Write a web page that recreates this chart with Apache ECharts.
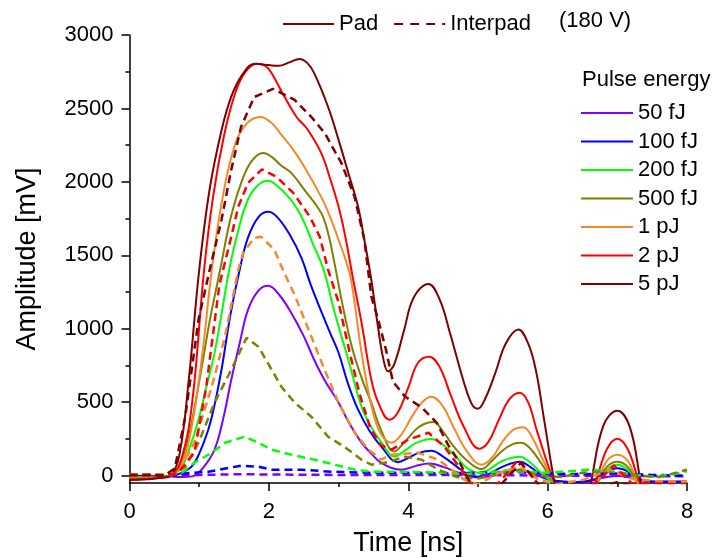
<!DOCTYPE html>
<html>
<head>
<meta charset="utf-8">
<script src="https://cdn.jsdelivr.net/npm/echarts@6/dist/echarts.min.js"></script>
<style>html,body{margin:0;padding:0;background:#fff;}#c{width:719px;height:558px;}</style>
</head>
<body>
<div id="c"></div>
<script>
// ---- data: [time ns, amplitude mV] ----
var energies = ['50 fJ','100 fJ','200 fJ','500 fJ','1 pJ','2 pJ','5 pJ'];
var colors = ['#8000ff','#0000ff','#00ff00','#808000','#f5892a','#ff0000','#800000'];
var yTickValues = [0,500,1000,1500,2000,2500,3000];
var yMinorValues = [250,750,1250,1750,2250,2750];

var pad50fJ = [[0,0],[0.3,0],[0.5,-3],[0.75,-10],[0.9,-5],[1.05,50],[1.22,177],[1.35,400],[1.46,653],[1.58,900],[1.7,1129],[1.85,1260],[1.99,1293],[2.15,1230],[2.32,1109],[2.5,950],[2.65,789],[2.8,650],[3.0,497],[3.15,360],[3.33,225],[3.47,150],[3.61,88],[3.9,41],[4.1,65],[4.3,82],[4.5,60],[4.75,15],[5.0,-12],[5.2,0],[5.4,30],[5.6,40],[5.8,10],[6.0,-25],[6.2,-40],[6.5,-45],[6.75,-20],[7.0,0],[7.25,-20],[7.5,-40],[8,-40]];
var pad100fJ = [[0,-5],[0.25,-5],[0.45,-3],[0.6,-2],[0.75,20],[0.89,61],[1.0,150],[1.13,313],[1.22,480],[1.32,721],[1.45,1100],[1.58,1400],[1.7,1620],[1.85,1760],[1.99,1796],[2.12,1760],[2.3,1640],[2.47,1480],[2.6,1300],[2.75,1120],[2.88,970],[3.0,837],[3.14,620],[3.28,449],[3.45,300],[3.61,200],[3.85,92],[4.0,120],[4.15,155],[4.33,170],[4.5,130],[4.7,60],[4.85,10],[5.0,-7],[5.15,10],[5.35,60],[5.6,95],[5.75,60],[5.95,-10],[6.1,-35],[6.4,-45],[6.7,-20],[6.85,30],[7.0,50],[7.15,30],[7.3,-20],[7.6,-42],[8,-42]];
var pad200fJ = [[0,-10],[0.25,-8],[0.45,-5],[0.6,0],[0.75,60],[0.85,170],[0.99,381],[1.1,600],[1.22,836],[1.32,1100],[1.43,1400],[1.55,1650],[1.7,1880],[1.85,1980],[1.99,2007],[2.1,1980],[2.28,1898],[2.4,1820],[2.51,1721],[2.63,1580],[2.78,1410],[2.95,1100],[3.14,789],[3.33,470],[3.47,330],[3.61,230],[3.8,130],[3.95,170],[4.1,220],[4.33,250],[4.5,210],[4.7,120],[4.85,50],[5.02,20],[5.15,40],[5.35,100],[5.6,129],[5.75,90],[5.95,0],[6.1,-50],[6.4,-120],[6.7,-50],[6.85,40],[7.0,75],[7.15,40],[7.3,-50],[7.6,-120],[8,-100]];
var pad500fJ = [[0,-15],[0.25,-12],[0.45,-8],[0.6,5],[0.75,100],[0.85,265],[1.03,721],[1.15,1050],[1.3,1400],[1.45,1750],[1.6,1990],[1.75,2140],[1.92,2197],[2.04,2170],[2.18,2110],[2.32,2061],[2.51,1946],[2.75,1789],[2.85,1650],[2.94,1450],[3.05,1180],[3.2,860],[3.35,640],[3.47,497],[3.61,310],[3.8,165],[3.95,230],[4.1,310],[4.22,350],[4.36,365],[4.5,300],[4.65,200],[4.85,100],[5.05,45],[5.2,100],[5.35,170],[5.5,215],[5.62,224],[5.76,180],[5.9,90],[6.1,-50],[6.4,-200],[6.7,-50],[6.85,60],[7.0,95],[7.15,60],[7.3,-50],[7.6,-200],[8,-150]];
var pad1pJ = [[0,-20],[0.25,-18],[0.45,-12],[0.6,0],[0.75,80],[0.9,350],[1.05,850],[1.18,1400],[1.32,1850],[1.48,2200],[1.65,2380],[1.88,2442],[2.04,2401],[2.18,2320],[2.32,2238],[2.51,2102],[2.75,1898],[2.88,1760],[3.0,1605],[3.1,1470],[3.18,1333],[3.33,837],[3.47,480],[3.6,290],[3.76,224],[3.9,280],[4.05,400],[4.2,500],[4.33,537],[4.5,470],[4.65,330],[4.85,160],[5.05,75],[5.2,120],[5.35,230],[5.5,310],[5.65,330],[5.78,260],[5.92,120],[6.1,-50],[6.4,-250],[6.7,-50],[6.85,100],[7.0,143],[7.15,100],[7.3,-50],[7.6,-250],[8,-180]];
var pad2pJ = [[0,-25],[0.25,-22],[0.45,-15],[0.6,0],[0.75,120],[0.9,500],[1.07,1400],[1.2,1900],[1.35,2300],[1.5,2580],[1.65,2740],[1.83,2805],[1.95,2790],[2.04,2740],[2.2,2600],[2.4,2440],[2.55,2360],[2.75,2197],[2.88,2020],[3.0,1830],[3.1,1620],[3.2,1360],[3.33,1041],[3.47,653],[3.57,497],[3.73,381],[3.85,430],[4.0,600],[4.14,769],[4.3,810],[4.45,740],[4.6,560],[4.8,330],[5.02,184],[5.15,230],[5.3,380],[5.45,520],[5.6,565],[5.72,500],[5.85,300],[6.1,-50],[6.4,-350],[6.68,-50],[6.85,180],[7.0,252],[7.15,180],[7.32,-50],[7.6,-350],[8,-250]];
var pad5pJ = [[0,-30],[0.25,-25],[0.45,-15],[0.6,5],[0.72,150],[0.85,650],[1.0,1400],[1.15,1950],[1.32,2350],[1.46,2580],[1.62,2730],[1.8,2805],[2.0,2795],[2.14,2790],[2.3,2815],[2.44,2837],[2.55,2810],[2.65,2740],[2.85,2510],[3.0,2286],[3.14,2061],[3.28,1830],[3.37,1605],[3.47,1333],[3.57,1000],[3.64,800],[3.71,710],[3.8,760],[3.94,990],[4.08,1215],[4.29,1305],[4.45,1200],[4.6,970],[4.8,633],[4.92,480],[5.0,456],[5.1,520],[5.25,700],[5.4,900],[5.58,995],[5.72,900],[5.83,721],[5.95,380],[6.1,-50],[6.35,-600],[6.62,-50],[6.8,340],[7.0,442],[7.18,330],[7.34,-50],[7.6,-600],[8,-400]];

var int50fJ = [[0,2],[0.5,2],[1.0,5],[1.6,10],[2.0,8],[3.0,5],[4.0,5],[5.0,5],[6.0,0],[7.0,0],[8,-5]];
var int100fJ = [[0,5],[0.5,5],[0.93,20],[1.13,27],[1.6,68],[1.85,61],[2.04,41],[2.47,41],[2.9,27],[3.43,20],[4.0,20],[4.5,15],[5.0,20],[5.5,25],[6.0,15],[6.5,10],[7.0,15],[7.5,5],[8,0]];
var int200fJ = [[0,5],[0.5,5],[0.75,20],[0.93,88],[1.18,156],[1.37,224],[1.65,265],[1.85,224],[2.04,177],[2.32,143],[2.65,109],[2.94,75],[3.23,41],[3.47,27],[4.0,25],[4.5,20],[4.8,10],[5.1,20],[5.4,35],[5.7,25],[6.0,20],[6.24,27],[6.58,41],[6.9,30],[7.2,10],[7.5,-7],[7.8,10],[8,30]];
var int500fJ = [[0,8],[0.3,8],[0.6,5],[0.8,60],[0.99,224],[1.22,497],[1.46,721],[1.68,939],[1.85,878],[2.04,721],[2.18,605],[2.37,497],[2.61,401],[2.85,265],[3.08,197],[3.33,109],[3.47,75],[3.7,90],[3.95,129],[4.19,109],[4.43,41],[4.7,-10],[5.0,-20],[5.3,10],[5.6,40],[5.9,0],[6.2,-10],[6.5,20],[6.9,30],[7.3,0],[7.6,-10],[8,40]];
var int1pJ = [[0,8],[0.3,8],[0.5,3],[0.7,20],[0.93,224],[1.18,605],[1.37,946],[1.56,1400],[1.63,1517],[1.79,1619],[1.89,1626],[2.08,1537],[2.22,1381],[2.37,1230],[2.61,946],[2.8,721],[3.0,497],[3.23,292],[3.43,177],[3.61,109],[3.76,143],[4.14,156],[4.43,109],[4.62,41],[4.8,-27],[5.0,-60],[5.3,20],[5.6,61],[5.85,-20],[6.1,-60],[6.5,-30],[6.9,40],[7.2,-20],[7.6,-40],[8,-40]];
var int2pJ = [[0,5],[0.3,5],[0.5,0],[0.7,20],[0.93,156],[1.1,600],[1.29,1300],[1.46,1626],[1.56,1830],[1.7,1993],[1.9,2085],[2.11,2034],[2.35,1925],[2.59,1762],[2.73,1626],[2.85,1401],[3.0,1180],[3.16,837],[3.3,560],[3.45,330],[3.6,210],[3.76,177],[4.0,245],[4.29,292],[4.52,197],[4.76,41],[4.9,-50],[5.1,-150],[5.35,-20],[5.58,109],[5.8,-20],[6.0,-150],[6.5,-80],[6.7,-50],[6.95,70],[7.2,-50],[8,-60]];
var int5pJ = [[0,5],[0.3,5],[0.5,0],[0.65,50],[0.8,400],[0.99,1061],[1.15,1400],[1.32,1741],[1.46,2082],[1.6,2374],[1.79,2578],[2.06,2633],[2.37,2558],[2.61,2442],[2.8,2333],[3.04,2129],[3.23,1898],[3.37,1605],[3.47,1220],[3.57,1060],[3.68,857],[3.78,640],[3.95,540],[4.2,462],[4.41,360],[4.57,211],[4.74,88],[4.89,-50],[5.1,-150],[5.35,-50],[5.62,88],[5.85,-50],[6.1,-200],[6.5,-100],[7.0,-45],[7.5,-100],[8,-80]];

var padData = [pad50fJ,pad100fJ,pad200fJ,pad500fJ,pad1pJ,pad2pJ,pad5pJ];
var intData = [int50fJ,int100fJ,int200fJ,int500fJ,int1pJ,int2pJ,int5pJ];

var FONT = 'Liberation Sans';
var series = [];
for (var i = 0; i < energies.length; i++) {
  series.push({
    name: energies[i], type: 'line', data: padData[i], smooth: 0.4, symbol: 'none',
    color: colors[i], lineStyle: {width: 2, color: colors[i]}, z: 3
  });
}
for (var j = 0; j < energies.length; j++) {
  series.push({
    name: energies[j] + ' interpad', type: 'line', data: intData[j], smooth: false, symbol: 'none',
    color: colors[j], lineStyle: {width: 2.5, color: colors[j], type: [8, 5]}, z: 4
  });
}
// legend-only series
series.push({name: 'Pad', type: 'line', data: [], symbol: 'none', color: '#800000', lineStyle: {width: 2, color: '#800000'}});
series.push({name: 'Interpad', type: 'line', data: [], symbol: 'none', color: '#800000', lineStyle: {width: 2.5, color: '#800000', type: [9, 7]}});

var chart = echarts.init(document.getElementById('c'), null, {renderer: 'canvas'});
chart.setOption({
  animation: false,
  backgroundColor: '#fff',
  textStyle: {fontFamily: FONT},
  grid: {left: 129.5, right: 32, top: 35, bottom: 75, containLabel: false, outerBoundsMode: 'none'},
  legend: [{
    data: ['Pad', 'Interpad'], orient: 'horizontal', left: 277, top: 8,
    itemWidth: 51, itemHeight: 14, itemGap: 15,
    itemStyle: {opacity: 0},
    textStyle: {fontFamily: FONT, fontSize: 22, color: '#000'}
  }, {
    data: energies, orient: 'vertical', left: 575, top: 97,
    itemWidth: 52, itemHeight: 14, itemGap: 6.5,
    itemStyle: {opacity: 0},
    textStyle: {fontFamily: FONT, fontSize: 22, color: '#000'}
  }],
  graphic: [
    {type: 'text', left: 559, top: 10, style: {text: '(180 V)', font: '22px "Liberation Sans"', fill: '#000'}},
    {type: 'text', left: 582, top: 69, style: {text: 'Pulse energy', font: '22px "Liberation Sans"', fill: '#000'}}
  ],
  xAxis: [{
    type: 'value', min: 0, max: 8, interval: 2,
    name: 'Time [ns]', nameLocation: 'middle', nameGap: 47,
    nameTextStyle: {fontFamily: FONT, fontSize: 27, color: '#000'},
    axisLine: {show: true, onZero: false, lineStyle: {color: '#000', width: 1.5}},
    axisTick: {show: true, inside: false, length: 8, lineStyle: {color: '#000', width: 1.5}},
    minorTick: {show: true, splitNumber: 2, length: 4, lineStyle: {color: '#000', width: 1.5}},
    splitLine: {show: false},
    axisLabel: {fontFamily: FONT, fontSize: 22, color: '#000', margin: 18}
  }],
  yAxis: [{
    type: 'value', min: -50, max: 3000,
    name: 'Amplitude [mV]', nameLocation: 'middle', nameGap: 88,
    nameTextStyle: {fontFamily: FONT, fontSize: 27, color: '#000'},
    axisLine: {show: true, onZero: false, lineStyle: {color: '#000', width: 1.5}},
    axisTick: {show: true, inside: false, length: 8, customValues: yTickValues, lineStyle: {color: '#000', width: 1.5}},
    splitLine: {show: false},
    axisLabel: {fontFamily: FONT, fontSize: 22, color: '#000', margin: 16, customValues: yTickValues,
      formatter: function (v) { return String(v); }}
  }, {
    type: 'value', min: -50, max: 3000, position: 'left', offset: 0,
    axisLine: {show: false},
    axisTick: {show: true, inside: false, length: 4, customValues: yMinorValues, lineStyle: {color: '#000', width: 1.5}},
    splitLine: {show: false},
    axisLabel: {show: false, customValues: yMinorValues}
  }],
  series: series
});
</script>
</body>
</html>
